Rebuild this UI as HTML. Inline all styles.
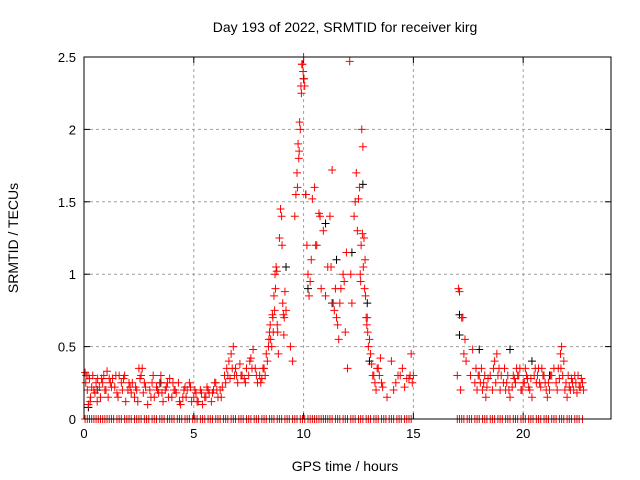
<!DOCTYPE html>
<html><head><meta charset="utf-8"><style>
body{margin:0;background:#fff}
svg{display:block;font-family:"Liberation Sans",sans-serif}
</style></head><body>
<svg id="chart" width="640" height="480" viewBox="0 0 640 480" xmlns="http://www.w3.org/2000/svg">
<rect width="640" height="480" fill="#fff"/>
<text x="345" y="32" font-size="14" text-anchor="middle">Day 193 of 2022, SRMTID for receiver kirg</text>
<text x="345" y="471" font-size="14" text-anchor="middle">GPS time / hours</text>
<text transform="translate(18,238) rotate(-90)" font-size="14" text-anchor="middle">SRMTID / TECUs</text>
<g id="grid"></g>
<g id="ticks"></g>
<g id="black"></g>
<g id="red"></g>
<rect x="84" y="57" width="527" height="362" fill="none" stroke="#000" stroke-width="1"/>
</svg>
<script>
const xTicks=[0,5,10,15,20];
const yTicks=[0,0.5,1,1.5,2,2.5];
const yTickLabels=["0","0.5","1","1.5","2","2.5"];
const redT=[0.05,0.1,0.15,0.2,0.25,0.3,0.35,0.4,0.5,0.55,0.6,0.7,0.8,0.9,1.0,1.05,1.1,1.2,1.3,1.4,1.5,1.6,1.7,1.8,1.9,2.0,2.1,2.2,2.3,2.4,2.5,2.6,2.7,2.8,2.9,3.0,3.1,3.2,3.3,3.4,3.5,3.6,3.7,3.8,3.9,4.0,4.1,4.2,4.3,4.4,4.5,4.6,4.7,4.8,4.9,5.0,5.1,5.2,5.3,5.4,5.5,5.6,5.7,5.8,5.9,6.0,6.1,6.2,6.3,6.4,6.5,6.6,6.7,6.8,6.85,6.9,7.0,7.1,7.2,7.3,7.4,7.5,7.6,7.7,7.8,7.9,8.0,8.1,8.2,8.3,8.4,8.45,8.5,8.6,8.65,8.7,8.75,8.8,8.85,8.9,8.95,9.0,9.05,9.1,9.15,9.2,9.4,9.5,9.6,9.65,9.7,9.75,9.8,9.85,9.9,9.95,10.0,10.05,10.1,10.15,10.2,10.25,10.3,10.4,10.5,10.6,10.7,10.8,10.9,11.0,11.1,11.2,11.3,11.4,11.5,11.6,11.7,11.8,11.9,12.0,12.1,12.2,12.3,12.4,12.5,12.6,12.65,12.7,12.75,12.8,12.9,13.0,13.1,13.2,13.3,13.4,13.5,13.6,13.8,14.0,14.2,14.4,14.6,14.8,14.9,15.0,17.0,17.05,17.1,17.2,17.3,17.4,17.6,17.8,17.9,18.0,18.1,18.2,18.3,18.4,18.6,18.7,18.8,18.9,19.0,19.1,19.2,19.3,19.4,19.5,19.6,19.7,19.8,19.9,20.0,20.1,20.2,20.3,20.4,20.5,20.6,20.7,20.8,20.9,21.0,21.1,21.2,21.3,21.5,21.6,21.7,21.75,21.8,21.9,22.0,22.1,22.2,22.3,22.4,22.5,22.6,22.7];
const redV=[0.32,0.3,0.2,0.1,0.28,0.15,0.22,0.3,0.18,0.25,0.12,0.22,0.28,0.3,0.2,0.33,0.15,0.25,0.28,0.22,0.18,0.3,0.25,0.28,0.12,0.2,0.22,0.25,0.15,0.2,0.35,0.3,0.18,0.22,0.1,0.2,0.25,0.15,0.22,0.18,0.3,0.12,0.2,0.25,0.28,0.15,0.2,0.18,0.25,0.1,0.15,0.22,0.2,0.25,0.12,0.15,0.18,0.12,0.2,0.1,0.15,0.22,0.18,0.12,0.2,0.25,0.15,0.2,0.22,0.3,0.35,0.4,0.45,0.5,0.3,0.35,0.25,0.38,0.3,0.28,0.35,0.3,0.42,0.48,0.35,0.25,0.3,0.28,0.35,0.45,0.5,0.6,0.55,0.7,0.85,1.0,1.05,0.65,0.45,1.25,1.45,1.4,0.8,0.58,0.88,0.75,0.5,0.4,1.4,1.55,1.7,1.9,1.85,2.0,2.25,2.45,2.5,2.3,1.55,1.2,1.0,0.85,0.95,1.52,1.6,1.2,1.42,0.9,1.3,0.85,1.05,1.4,1.72,0.75,0.7,0.55,0.9,1.0,0.6,0.35,2.47,0.8,1.4,1.7,1.52,0.95,2.0,1.88,1.25,1.1,0.7,0.55,0.38,0.3,0.2,0.35,0.42,0.22,0.15,0.4,0.25,0.3,0.22,0.28,0.45,0.3,0.3,0.9,0.88,0.7,0.45,0.4,0.3,0.25,0.2,0.3,0.35,0.25,0.15,0.28,0.2,0.4,0.45,0.35,0.3,0.25,0.2,0.3,0.15,0.22,0.28,0.35,0.3,0.2,0.25,0.35,0.28,0.2,0.15,0.3,0.25,0.35,0.22,0.3,0.25,0.15,0.2,0.3,0.25,0.35,0.45,0.5,0.3,0.2,0.15,0.22,0.28,0.2,0.25,0.3,0.22,0.25];
const red2T=[0.08,0.18,0.28,0.45,0.62,0.75,0.85,0.95,1.15,1.25,1.45,1.55,1.75,1.85,2.05,2.15,2.35,2.45,2.55,2.65,2.75,3.05,3.15,3.35,3.45,3.55,3.75,3.85,4.05,4.15,4.35,4.55,4.65,4.85,5.05,5.15,5.35,5.55,5.65,5.85,5.95,6.05,6.25,6.45,6.55,6.65,6.75,6.95,7.15,7.35,7.55,7.65,7.85,8.05,8.15,8.25,8.35,8.42,8.48,8.55,8.58,8.62,8.68,8.72,8.78,8.82,9.02,9.08,9.12,9.72,9.78,9.82,9.88,9.92,9.98,10.02,10.35,10.55,10.75,11.25,11.35,11.45,11.55,11.65,11.85,11.95,12.15,12.35,12.45,12.55,12.58,12.62,12.68,12.72,12.78,12.82,12.85,12.88,12.92,12.95,13.05,13.15,13.25,13.35,13.45,13.55,14.1,14.3,14.5,14.7,14.85,14.95,17.15,17.25,17.35,17.7,17.85,17.95,18.05,18.15,18.25,18.35,18.5,18.65,18.75,18.85,18.95,19.15,19.25,19.35,19.55,19.65,19.75,19.85,19.95,20.05,20.15,20.25,20.35,20.55,20.65,20.75,20.85,20.95,21.05,21.15,21.25,21.4,21.55,21.65,21.72,21.85,21.95,22.05,22.15,22.25,22.35,22.45,22.55,22.65,22.75];
const red2V=[0.25,0.3,0.12,0.2,0.28,0.15,0.25,0.2,0.28,0.22,0.3,0.15,0.2,0.3,0.25,0.18,0.22,0.12,0.28,0.35,0.25,0.15,0.3,0.2,0.25,0.18,0.22,0.15,0.25,0.2,0.12,0.2,0.15,0.22,0.2,0.12,0.18,0.15,0.2,0.18,0.25,0.2,0.15,0.25,0.3,0.28,0.35,0.3,0.3,0.25,0.4,0.35,0.3,0.25,0.35,0.3,0.4,0.55,0.65,0.5,0.72,0.6,0.75,0.9,1.02,0.6,1.2,0.72,0.7,1.6,1.8,2.05,2.3,2.45,2.4,2.35,1.1,1.2,1.4,1.05,0.8,0.9,0.65,0.8,0.95,1.15,1.0,1.5,1.3,1.6,1.0,1.2,1.28,1.05,0.9,0.85,0.7,0.65,0.6,0.5,0.45,0.3,0.25,0.35,0.3,0.25,0.2,0.3,0.35,0.28,0.3,0.25,0.2,0.7,0.55,0.48,0.35,0.3,0.25,0.2,0.3,0.22,0.3,0.35,0.25,0.3,0.2,0.35,0.25,0.2,0.3,0.25,0.3,0.35,0.2,0.25,0.3,0.22,0.28,0.35,0.3,0.25,0.35,0.3,0.2,0.25,0.3,0.35,0.2,0.28,0.35,0.4,0.25,0.3,0.2,0.25,0.3,0.18,0.22,0.28,0.2,0.25];
const blackT=[0.2,0.6,3.5,9.2,10.0,10.1,10.2,11.0,11.3,11.5,12.2,12.7,12.9,13.0,17.1,17.1,18.0,19.4,20.4,21.2];
const blackV=[0.08,0.2,0.25,1.05,2.35,1.55,0.9,1.35,0.8,1.1,1.15,1.62,0.8,0.4,0.58,0.72,0.48,0.48,0.4,0.3];
const zeroT=[0.05,0.15,0.25,0.35,0.45,0.55,0.65,0.75,0.85,0.95,1.05,1.15,1.25,1.35,1.5,1.6,1.7,1.85,1.95,2.05,2.15,2.3,2.4,2.5,2.6,2.75,2.85,2.95,3.1,3.2,3.3,3.45,3.55,3.65,3.8,3.9,4.0,4.1,4.25,4.35,4.45,4.6,4.7,4.8,4.95,5.05,5.15,5.3,5.4,5.5,5.65,5.75,5.85,6.0,6.1,6.2,6.35,6.45,6.55,6.7,6.8,6.9,7.05,7.15,7.25,7.4,7.5,7.6,7.75,7.85,7.95,8.1,8.2,8.3,8.45,8.55,8.65,8.8,8.9,9.0,9.15,9.25,9.35,9.5,9.6,9.7,9.85,9.95,10.05,10.2,10.3,10.4,10.5,10.6,10.7,10.8,10.9,11.0,11.1,11.2,11.3,11.45,11.55,11.65,11.8,11.9,12.0,12.15,12.25,12.35,12.5,12.6,12.7,12.85,12.95,13.05,13.2,13.3,13.4,13.55,13.65,13.75,13.9,14.0,14.1,14.25,14.35,14.45,14.6,14.7,14.8,14.9,17.0,17.1,17.2,17.3,17.45,17.55,17.65,17.8,17.9,18.0,18.15,18.25,18.35,18.5,18.6,18.7,18.85,18.95,19.05,19.2,19.3,19.4,19.55,19.65,19.75,19.9,20.0,20.1,20.25,20.35,20.45,20.6,20.7,20.8,20.95,21.05,21.15,21.3,21.4,21.5,21.65,21.75,21.85,22.0,22.1,22.2,22.35,22.45,22.55,22.7];
const NS="http://www.w3.org/2000/svg";
const X=h=>84+h*527/24, Y=v=>419-v*362/2.5;
function mk(tag,attrs,parent){const e=document.createElementNS(NS,tag);for(const k in attrs)e.setAttribute(k,attrs[k]);parent.appendChild(e);return e;}
const grid=document.getElementById('grid'),ticks=document.getElementById('ticks');
xTicks.forEach(t=>{const x=X(t);
 if(t>0){const g=mk('line',{x1:x,y1:57,x2:x,y2:419,stroke:'#a0a0a0','stroke-dasharray':'3,3'},grid);}
 mk('line',{x1:x,y1:419,x2:x,y2:413,stroke:'#000'},ticks);mk('line',{x1:x,y1:57,x2:x,y2:63,stroke:'#000'},ticks);
 const l=mk('text',{x:x,y:438,'font-size':13,'text-anchor':'middle'},ticks);l.textContent=t;
 });
yTicks.forEach((t,i)=>{const y=Y(t);
 if(t>0&&t<2.5){const g=mk('line',{x1:84,y1:y,x2:611,y2:y,stroke:'#a0a0a0','stroke-dasharray':'3,3'},grid);}
 mk('line',{x1:84,y1:y,x2:90,y2:y,stroke:'#000'},ticks);mk('line',{x1:611,y1:y,x2:605,y2:y,stroke:'#000'},ticks);
 const l=mk('text',{x:76,y:y+5,'font-size':13,'text-anchor':'end'},ticks);l.textContent=yTickLabels[i];
 });
function plus(g,h,v,c){const x=X(h),y=Y(v);
 const p=mk('path',{d:`M${x-4} ${y}H${x+4}M${x} ${y-4}V${y+4}`,stroke:c,'stroke-width':1,fill:'none'},g);
 
 }
const bg=document.getElementById('black'),rg=document.getElementById('red');
blackT.forEach((t,i)=>plus(bg,t,blackV[i],'#000'));
redT.forEach((t,i)=>plus(rg,t,redV[i],'#f00'));
red2T.forEach((t,i)=>plus(rg,t,red2V[i],'#f00'));
zeroT.forEach(t=>plus(rg,t,0,'#f00'));
</script>
</body></html>
